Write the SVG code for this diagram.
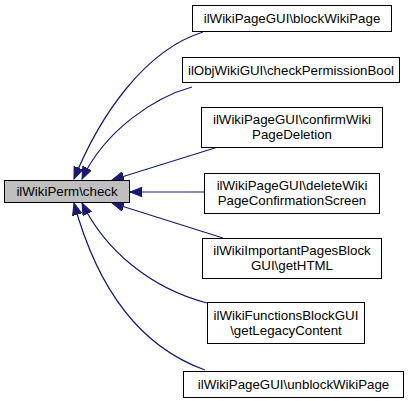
<svg xmlns="http://www.w3.org/2000/svg" width="411" height="401" viewBox="0 0 411 401">
<defs>
<style>
.n rect{fill:#fff;stroke:#000;stroke-width:1}
.m rect{fill:#bfbfbf;stroke:#000;stroke-width:1}
text{font-family:"Liberation Sans",Arial,sans-serif;font-size:13.3px;fill:#000;text-anchor:middle}
.e path{fill:none;stroke:#191970;stroke-width:1.2;marker-end:url(#a)}
</style>
<marker id="a" markerUnits="userSpaceOnUse" markerWidth="13" markerHeight="10" refX="12" refY="4.75" orient="auto">
<path d="M0,0 L12,4.75 L0,9.5 z" fill="#191970" stroke="#191970"/>
</marker>
</defs>
<g class="e">
<path d="M203,32 C145,50 100,115 74,179"/>
<path d="M192,87 C155,97 105,130 82,179"/>
<path d="M218,147 L112,180"/>
<path d="M204,192 L130,192"/>
<path d="M223,238 L112,203"/>
<path d="M207,303 C150,288 105,250 82,203"/>
<path d="M205,370 C135,345 95,280 74,203"/>
</g>
<g id="main" class="m"><rect x="4.5" y="180.5" width="125" height="22"/><text x="67" y="196">ilWikiPerm\check</text></g>
<g id="n1" class="n"><rect x="192.5" y="5.5" width="199" height="26"/><text x="292" y="23">ilWikiPageGUI\blockWikiPage</text></g>
<g id="n2" class="n"><rect x="182.5" y="57.5" width="217" height="25"/><text x="291" y="74.5">ilObjWikiGUI\checkPermissionBool</text></g>
<g id="n3" class="n"><rect x="201.5" y="107.5" width="181" height="40"/><text x="292" y="124">ilWikiPageGUI\confirmWiki</text><text x="292" y="139">PageDeletion</text></g>
<g id="n4" class="n"><rect x="204.5" y="173.5" width="175" height="40"/><text x="292" y="190">ilWikiPageGUI\deleteWiki</text><text x="292" y="205">PageConfirmationScreen</text></g>
<g id="n5" class="n"><rect x="202.5" y="238.5" width="179" height="40"/><text x="292" y="255">ilWikiImportantPagesBlock</text><text x="292" y="270">GUI\getHTML</text></g>
<g id="n6" class="n"><rect x="207.5" y="302.5" width="157" height="41"/><text x="286" y="319.5">ilWikiFunctionsBlockGUI</text><text x="286" y="334.5">\getLegacyContent</text></g>
<g id="n7" class="n"><rect x="183.5" y="371.5" width="220" height="26"/><text x="293.5" y="389">ilWikiPageGUI\unblockWikiPage</text></g>
</svg>
